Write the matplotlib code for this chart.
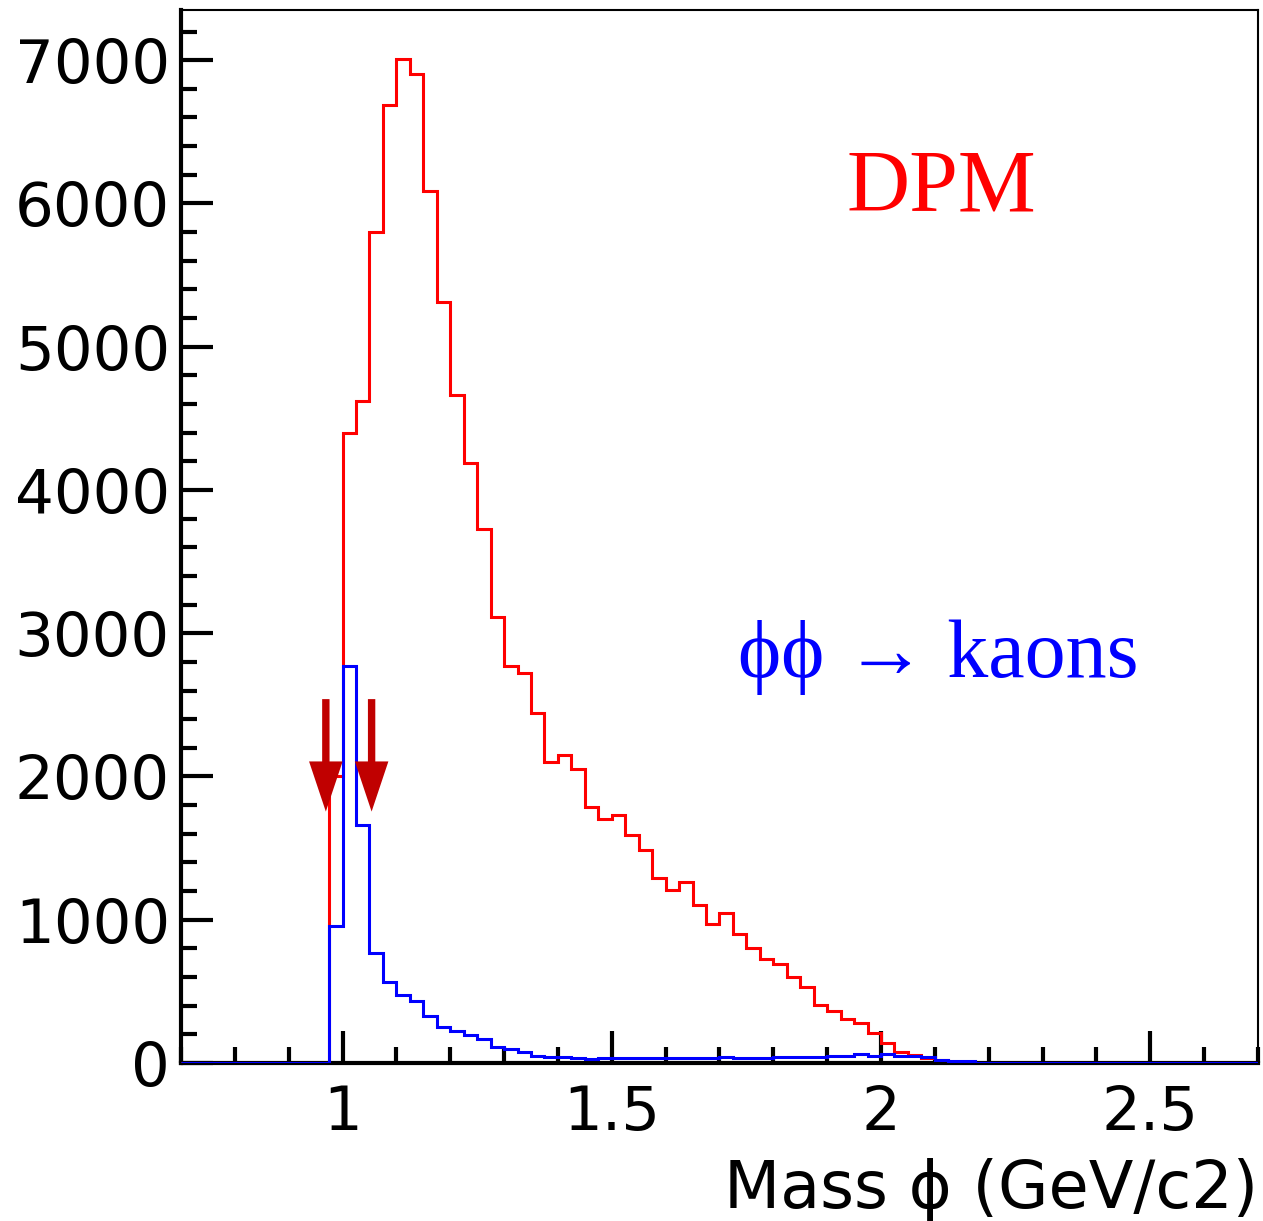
import matplotlib
matplotlib.use("Agg")
import matplotlib.pyplot as plt
import numpy as np
from matplotlib.patches import FancyArrow
from matplotlib.ticker import MultipleLocator

# histogram binning: 80 bins from 0.7 to 2.7 GeV/c2
x_min, x_max, n_bins = 0.7, 2.7, 80

# non-empty bins start at 0.975
first_bin = 0.975
dpm = [2000, 4400, 4620, 5800, 6690, 7010, 6900, 6090, 5310, 4660,
       4190, 3730, 3110, 2770, 2720, 2440, 2100, 2150, 2050, 1790,
       1700, 1730, 1590, 1490, 1290, 1210, 1260, 1100, 970, 1050,
       900, 800, 725, 690, 600, 530, 405, 365, 305, 280,
       210, 140, 75, 55, 35, 20, 10, 5]
phiphi = [955, 2770, 1660, 765, 565, 475, 435, 330, 250, 220,
          195, 165, 110, 100, 78, 50, 40, 40, 38, 28,
          35, 38, 32, 38, 38, 38, 35, 35, 35, 40,
          38, 38, 38, 40, 40, 40, 40, 49, 49, 61,
          49, 61, 49, 49, 40, 19, 12, 12]

# mass window cut positions (arrows)
cut_x = [0.969, 1.054]
arrow_top = 2540
arrow_tip = 1755

edges = np.linspace(x_min, x_max, n_bins + 1)
start = int(round((first_bin - x_min) / (x_max - x_min) * n_bins))


def full(vals):
    h = np.zeros(n_bins)
    h[start:start + len(vals)] = vals
    return h


fig = plt.figure(figsize=(12.63, 12.21), dpi=100)
ax = fig.add_axes([0.1433, 0.1294, 0.9960 - 0.1433, 0.9918 - 0.1294])

ax.stairs(full(dpm), edges, color="#ff0000", lw=2.2, baseline=0, zorder=3)
ax.stairs(full(phiphi), edges, color="#0000ff", lw=2.2, baseline=0, zorder=3.1)

for cx in cut_x:
    ax.add_patch(FancyArrow(cx, arrow_top, 0, arrow_tip - arrow_top,
                            width=0.0137, head_width=0.0623, head_length=350,
                            length_includes_head=True, color="#c00000", lw=0,
                            zorder=3.2))

ax.set_xlim(x_min, x_max)
ax.set_ylim(0, 7350)
ax.xaxis.set_major_locator(MultipleLocator(0.5))
ax.xaxis.set_minor_locator(MultipleLocator(0.1))
ax.yaxis.set_major_locator(MultipleLocator(1000))
ax.yaxis.set_minor_locator(MultipleLocator(200))
ax.xaxis.set_major_formatter(plt.FuncFormatter(lambda v, p: f"{v:g}"))

ax.tick_params(which="both", direction="in", width=3, colors="black")
ax.tick_params(which="major", length=23)
ax.tick_params(which="minor", length=11.5)
ax.tick_params(axis="x", which="major", pad=15, labelsize=44)
ax.tick_params(axis="y", which="major", pad=8, labelsize=44)
for lab in ax.get_xticklabels() + ax.get_yticklabels():
    lab.set_fontfamily("DejaVu Sans")
ax.tick_params(top=False, right=False)

for side in ["left", "bottom"]:
    ax.spines[side].set_linewidth(3)
for side in ["top", "right"]:
    ax.spines[side].set_linewidth(1.5)

ax.set_xlabel("Mass \u03d5 (GeV/c2)", fontsize=47, family=["DejaVu Sans"])
ax.xaxis.set_label_coords(1.0, -0.09)
ax.xaxis.label.set_ha("right")

ax.text(0.618, 0.81, "DPM", transform=ax.transAxes, color="#ff0000",
        fontsize=63, family=["Liberation Serif", "DejaVu Serif"], ha="left", va="baseline")
ax.text(0.517, 0.367, "\u03d5\u03d5 \u2192 kaons", transform=ax.transAxes, color="#0000ff",
        fontsize=59, family=["Liberation Serif", "DejaVu Serif"], ha="left", va="baseline")

fig.savefig("out.png", dpi=100)
